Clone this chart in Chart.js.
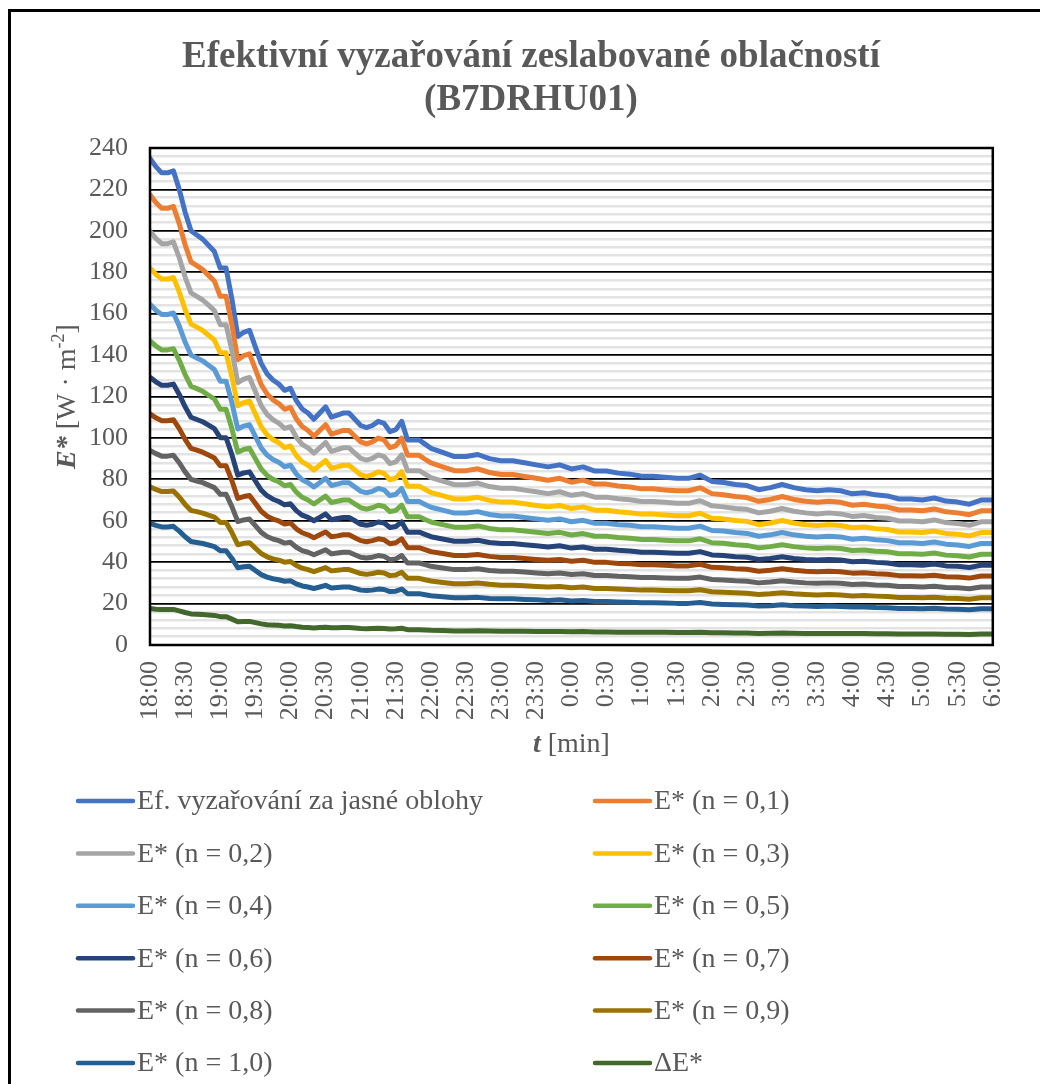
<!DOCTYPE html>
<html>
<head>
<meta charset="utf-8">
<script src="https://cdn.jsdelivr.net/npm/chart.js@4/dist/chart.umd.min.js"></script>
<style>
  body { margin: 0; background: #fff; }
  canvas { display: block; }
</style>
</head>
<body>
<canvas id="chart" width="1040" height="1084" style="width:1040px;height:1084px"></canvas>
<script>
// time in minutes after 18:00
const minutes = [0,5,10,15,20,25,30,35,40,45,50,55,60,65,70,75,80,85,90,95,100,105,110,115,120,125,130,135,140,145,150,155,160,165,170,175,180,185,190,195,200,205,210,215,220,225,230,235,240,
  250,260,270,280,290,300,310,320,330,340,350,360,370,380,390,400,410,420,430,440,450,460,470,480,490,500,510,520,530,540,550,560,570,580,590,600,610,620,630,640,650,660,670,680,690,700,710,720];

const tickLabels = ['18:00','18:30','19:00','19:30','20:00','20:30','21:00','21:30','22:00','22:30','23:00','23:30',
  '0:00','0:30','1:00','1:30','2:00','2:30','3:00','3:30','4:00','4:30','5:00','5:30','6:00'];

const seriesNames = ['Ef. vyzařování za jasné oblohy','E* (n = 0,1)','E* (n = 0,2)','E* (n = 0,3)','E* (n = 0,4)','E* (n = 0,5)',
  'E* (n = 0,6)','E* (n = 0,7)','E* (n = 0,8)','E* (n = 0,9)','E* (n = 1,0)','ΔE*'];

const clearSky = [235,231,228,228,229,220,209,200,198,196,193,190,182,182,167,149,151,152,144,136,131,128,126,123,124,118,114,112,109,112,115,110,111,112,112,109,106,105,106,108,107,103,104,108,99,99,99,97,95,
  93,91,91,92,90,89,89,88,87,86,87,85,86,84,84,83,82.5,81.5,81.5,81,80.5,80.5,82,79,78.5,77.5,77,75,76,77.5,76,75,74.5,75,74.5,73,73.5,72.5,72,70.5,70.5,70,71,69.5,69,68,70,70];
const n01 = [217.4,213.7,210.9,210.9,211.8,203.5,193.3,185,183.2,181.3,178.5,175.8,168.4,168.4,154.5,137.8,139.7,140.6,133.2,125.8,121.2,118.4,116.6,113.8,114.7,109.2,105.5,103.6,100.8,103.6,106.4,101.8,102.7,103.6,103.6,100.8,98.1,97.1,98.1,99.9,99,95.3,96.2,99.9,91.6,91.6,91.6,89.7,87.9,
  86,84.2,84.2,85.1,83.3,82.3,82.3,81.4,80.5,79.6,80.5,78.6,79.6,77.7,77.7,76.8,76.3,75.4,75.4,74.9,74.5,74.5,75.9,73.1,72.6,71.7,71.2,69.4,70.3,71.7,70.3,69.4,68.9,69.4,68.9,67.5,68,67.1,66.6,65.2,65.2,64.8,65.7,64.3,63.8,62.9,64.8,64.8];
const n02 = [199.8,196.4,193.8,193.8,194.7,187,177.7,170,168.3,166.6,164.1,161.5,154.7,154.7,142,126.7,128.4,129.2,122.4,115.6,111.4,108.8,107.1,104.6,105.4,100.3,96.9,95.2,92.7,95.2,97.8,93.5,94.4,95.2,95.2,92.7,90.1,89.3,90.1,91.8,91,87.6,88.4,91.8,84.2,84.2,84.2,82.5,80.8,
  79.1,77.4,77.4,78.2,76.5,75.7,75.7,74.8,74,73.1,74,72.3,73.1,71.4,71.4,70.6,70.1,69.3,69.3,68.9,68.4,68.4,69.7,67.2,66.7,65.9,65.5,63.8,64.6,65.9,64.6,63.8,63.3,63.8,63.3,62.1,62.5,61.6,61.2,59.9,59.9,59.5,60.4,59.1,58.7,57.8,59.5,59.5];
const n03 = [182.1,179,176.7,176.7,177.5,170.5,162,155,153.5,151.9,149.6,147.3,141.1,141.1,129.4,115.5,117,117.8,111.6,105.4,101.5,99.2,97.7,95.3,96.1,91.5,88.4,86.8,84.5,86.8,89.1,85.3,86,86.8,86.8,84.5,82.2,81.4,82.2,83.7,82.9,79.8,80.6,83.7,76.7,76.7,76.7,75.2,73.6,
  72.1,70.5,70.5,71.3,69.8,69,69,68.2,67.4,66.7,67.4,65.9,66.7,65.1,65.1,64.3,63.9,63.2,63.2,62.8,62.4,62.4,63.6,61.2,60.8,60.1,59.7,58.1,58.9,60.1,58.9,58.1,57.7,58.1,57.7,56.6,57,56.2,55.8,54.6,54.6,54.3,55,53.9,53.5,52.7,54.3,54.3];
const n04 = [164.5,161.7,159.6,159.6,160.3,154,146.3,140,138.6,137.2,135.1,133,127.4,127.4,116.9,104.3,105.7,106.4,100.8,95.2,91.7,89.6,88.2,86.1,86.8,82.6,79.8,78.4,76.3,78.4,80.5,77,77.7,78.4,78.4,76.3,74.2,73.5,74.2,75.6,74.9,72.1,72.8,75.6,69.3,69.3,69.3,67.9,66.5,
  65.1,63.7,63.7,64.4,63,62.3,62.3,61.6,60.9,60.2,60.9,59.5,60.2,58.8,58.8,58.1,57.8,57.1,57.1,56.7,56.4,56.4,57.4,55.3,55,54.3,53.9,52.5,53.2,54.3,53.2,52.5,52.2,52.5,52.2,51.1,51.5,50.8,50.4,49.4,49.4,49,49.7,48.7,48.3,47.6,49,49];
const n05 = [146.9,144.4,142.5,142.5,143.1,137.5,130.6,125,123.8,122.5,120.6,118.8,113.8,113.8,104.4,93.1,94.4,95,90,85,81.9,80,78.8,76.9,77.5,73.8,71.3,70,68.1,70,71.9,68.8,69.4,70,70,68.1,66.3,65.6,66.3,67.5,66.9,64.4,65,67.5,61.9,61.9,61.9,60.6,59.4,
  58.1,56.9,56.9,57.5,56.3,55.6,55.6,55,54.4,53.8,54.4,53.1,53.8,52.5,52.5,51.9,51.6,50.9,50.9,50.6,50.3,50.3,51.3,49.4,49.1,48.4,48.1,46.9,47.5,48.4,47.5,46.9,46.6,46.9,46.6,45.6,45.9,45.3,45,44.1,44.1,43.8,44.4,43.4,43.1,42.5,43.8,43.8];
const n06 = [129.3,127.1,125.4,125.4,126,121,115,110,108.9,107.8,106.2,104.5,100.1,100.1,91.9,82,83.1,83.6,79.2,74.8,72.1,70.4,69.3,67.7,68.2,64.9,62.7,61.6,60,61.6,63.3,60.5,61.1,61.6,61.6,60,58.3,57.8,58.3,59.4,58.9,56.7,57.2,59.4,54.5,54.5,54.5,53.4,52.3,
  51.2,50.1,50.1,50.6,49.5,49,49,48.4,47.9,47.3,47.9,46.8,47.3,46.2,46.2,45.7,45.4,44.8,44.8,44.6,44.3,44.3,45.1,43.5,43.2,42.6,42.4,41.3,41.8,42.6,41.8,41.3,41,41.3,41,40.2,40.4,39.9,39.6,38.8,38.8,38.5,39.1,38.2,38,37.4,38.5,38.5];
const n07 = [111.6,109.7,108.3,108.3,108.8,104.5,99.3,95,94.1,93.1,91.7,90.3,86.5,86.5,79.3,70.8,71.7,72.2,68.4,64.6,62.2,60.8,59.9,58.4,58.9,56.1,54.2,53.2,51.8,53.2,54.6,52.3,52.7,53.2,53.2,51.8,50.4,49.9,50.4,51.3,50.8,48.9,49.4,51.3,47,47,47,46.1,45.1,
  44.2,43.2,43.2,43.7,42.8,42.3,42.3,41.8,41.3,40.9,41.3,40.4,40.9,39.9,39.9,39.4,39.2,38.7,38.7,38.5,38.2,38.2,39,37.5,37.3,36.8,36.6,35.6,36.1,36.8,36.1,35.6,35.4,35.6,35.4,34.7,34.9,34.4,34.2,33.5,33.5,33.3,33.7,33,32.8,32.3,33.3,33.3];
const n08 = [94,92.4,91.2,91.2,91.6,88,83.6,80,79.2,78.4,77.2,76,72.8,72.8,66.8,59.6,60.4,60.8,57.6,54.4,52.4,51.2,50.4,49.2,49.6,47.2,45.6,44.8,43.6,44.8,46,44,44.4,44.8,44.8,43.6,42.4,42,42.4,43.2,42.8,41.2,41.6,43.2,39.6,39.6,39.6,38.8,38,
  37.2,36.4,36.4,36.8,36,35.6,35.6,35.2,34.8,34.4,34.8,34,34.4,33.6,33.6,33.2,33,32.6,32.6,32.4,32.2,32.2,32.8,31.6,31.4,31,30.8,30,30.4,31,30.4,30,29.8,30,29.8,29.2,29.4,29,28.8,28.2,28.2,28,28.4,27.8,27.6,27.2,28,28];
const n09 = [76.4,75.1,74.1,74.1,74.4,71.5,67.9,65,64.4,63.7,62.7,61.8,59.2,59.2,54.3,48.4,49.1,49.4,46.8,44.2,42.6,41.6,41,40,40.3,38.4,37.1,36.4,35.4,36.4,37.4,35.8,36.1,36.4,36.4,35.4,34.5,34.1,34.5,35.1,34.8,33.5,33.8,35.1,32.2,32.2,32.2,31.5,30.9,
  30.2,29.6,29.6,29.9,29.3,28.9,28.9,28.6,28.3,28,28.3,27.6,28,27.3,27.3,27,26.8,26.5,26.5,26.3,26.2,26.2,26.7,25.7,25.5,25.2,25,24.4,24.7,25.2,24.7,24.4,24.2,24.4,24.2,23.7,23.9,23.6,23.4,22.9,22.9,22.8,23.1,22.6,22.4,22.1,22.8,22.8];
const n10 = [58.8,57.8,57,57,57.3,55,52.3,50,49.5,49,48.3,47.5,45.5,45.5,41.8,37.3,37.8,38,36,34,32.8,32,31.5,30.8,31,29.5,28.5,28,27.3,28,28.8,27.5,27.8,28,28,27.3,26.5,26.3,26.5,27,26.8,25.8,26,27,24.8,24.8,24.8,24.3,23.8,
  23.3,22.8,22.8,23,22.5,22.3,22.3,22,21.8,21.5,21.8,21.3,21.5,21,21,20.8,20.6,20.4,20.4,20.3,20.1,20.1,20.5,19.8,19.6,19.4,19.3,18.8,19,19.4,19,18.8,18.6,18.8,18.6,18.3,18.4,18.1,18,17.6,17.6,17.5,17.8,17.4,17.3,17,17.5,17.5];
const deltaE = [17.6,17.3,17.1,17.1,17.2,16.5,15.7,15,14.9,14.7,14.5,14.3,13.7,13.7,12.5,11.2,11.3,11.4,10.8,10.2,9.8,9.6,9.5,9.2,9.3,8.9,8.6,8.4,8.2,8.4,8.6,8.3,8.3,8.4,8.4,8.2,8,7.9,8,8.1,8,7.7,7.8,8.1,7.4,7.4,7.4,7.3,7.1,
  7,6.8,6.8,6.9,6.8,6.7,6.7,6.6,6.5,6.5,6.5,6.4,6.5,6.3,6.3,6.2,6.2,6.1,6.1,6.1,6,6,6.2,5.9,5.9,5.8,5.8,5.6,5.7,5.8,5.7,5.6,5.6,5.6,5.6,5.5,5.5,5.4,5.4,5.3,5.3,5.3,5.3,5.2,5.2,5.1,5.3,5.3];

const seriesValues = [clearSky, n01, n02, n03, n04, n05, n06, n07, n08, n09, n10, deltaE];
const colors = ['#4472C4','#ED7D31','#A5A5A5','#FFC000','#5B9BD5','#70AD47','#264478','#9E480E','#636363','#997300','#255E91','#43682B'];

const serif = "'Liberation Serif', 'Times New Roman', serif";
const gray = '#595959';

const datasets = seriesValues.map((vals, i) => ({
  label: seriesNames[i],
  data: vals.map((v, j) => ({ x: minutes[j], y: v })),
  borderColor: colors[i],
  backgroundColor: colors[i],
  borderWidth: 5,
  pointRadius: 0,
  fill: false,
  order: seriesValues.length - i   // later series on top, like the original
}));

// frame, titles and the two-column legend
const decorations = {
  id: 'decorations',
  afterDatasetsDraw(chart) {
    const { ctx, chartArea: a } = chart;
    ctx.save();
    ctx.strokeStyle = '#000';
    ctx.lineWidth = 2.5;
    ctx.strokeRect(a.left, a.top, a.right - a.left, a.bottom - a.top);
    ctx.restore();
  },
  afterDraw(chart) {
    const { ctx, chartArea: a } = chart;
    ctx.save();
    // outer border
    ctx.strokeStyle = '#000';
    ctx.lineWidth = 3;
    ctx.strokeRect(9.5, 10.5, 1100, 1100);

    // title
    ctx.fillStyle = gray;
    ctx.textAlign = 'center';
    ctx.textBaseline = 'middle';
    ctx.font = 'bold 37px ' + serif;
    ctx.fillText('Efektivní vyzařování zeslabované oblačností', 531, 57);
    ctx.fillText('(B7DRHU01)', 531, 100);

    // mixed-style text helper
    const drawParts = (parts, cx, cy) => {
      let total = 0;
      parts.forEach(p => { ctx.font = p.font; p.w = ctx.measureText(p.text).width; total += p.w; });
      let x = cx - total / 2;
      ctx.textAlign = 'left';
      parts.forEach(p => { ctx.font = p.font; ctx.fillText(p.text, x, cy + (p.dy || 0)); x += p.w; });
    };

    // x axis title
    drawParts([
      { text: 't', font: 'bold italic 28px ' + serif },
      { text: ' [min]', font: '28px ' + serif }
    ], (a.left + a.right) / 2, 745);

    // y axis title
    ctx.save();
    ctx.translate(68, (a.top + a.bottom) / 2);
    ctx.rotate(-Math.PI / 2);
    drawParts([
      { text: 'E*', font: 'bold italic 28px ' + serif },
      { text: ' [W · m', font: '28px ' + serif },
      { text: '-2', font: '18px ' + serif, dy: -9 },
      { text: ']', font: '28px ' + serif }
    ], 0, 0);
    ctx.restore();

    // legend
    ctx.textAlign = 'left';
    ctx.textBaseline = 'middle';
    ctx.font = '28px ' + serif;
    ctx.lineCap = 'round';
    chart.data.datasets.forEach((ds, i) => {
      const col = i % 2, row = Math.floor(i / 2);
      const x0 = col ? 595 : 78;
      const y = 801 + row * 52.4;
      ctx.strokeStyle = ds.borderColor;
      ctx.lineWidth = 4.5;
      ctx.beginPath();
      ctx.moveTo(x0, y);
      ctx.lineTo(x0 + 55, y);
      ctx.stroke();
      ctx.fillStyle = gray;
      ctx.fillText(ds.label, x0 + 59, y + 1);
    });
    ctx.restore();
  }
};

const ctx = document.getElementById('chart').getContext('2d');
const chart = new Chart(ctx, {
  type: 'line',
  data: { datasets },
  options: {
    responsive: false,
    animation: false,
    layout: { padding: { left: 10, right: 19, top: 148, bottom: 0 } },
    elements: { line: { tension: 0, borderCapStyle: 'round', borderJoinStyle: 'round' } },
    plugins: {
      legend: { display: false },
      tooltip: { enabled: false },
      title: { display: false }
    },
    scales: {
      yMinor: {
        type: 'linear',
        position: 'left',
        min: 0,
        max: 240,
        z: -1,
        ticks: { stepSize: 4, display: false },
        grid: {
          color: c => (c.tick && c.tick.value % 20 === 0) ? 'rgba(0,0,0,0)' : '#e3e3e3',
          lineWidth: 2.5,
          drawTicks: false
        },
        border: { display: false },
        afterFit: s => { s.width = 0; }
      },
      y: {
        type: 'linear',
        position: 'left',
        min: 0,
        max: 240,
        ticks: { stepSize: 20, color: gray, padding: 22, font: { family: serif, size: 26 } },
        grid: { color: '#000', lineWidth: 1.75, drawTicks: false },
        border: { display: false },
        afterFit: s => { s.width = 140; }
      },
      x: {
        type: 'linear',
        min: 0,
        max: 720,
        ticks: {
          stepSize: 30,
          autoSkip: false,
          minRotation: 90,
          maxRotation: 90,
          color: gray,
          padding: 16,
          font: { family: serif, size: 26 },
          callback: v => tickLabels[Math.round(v / 30)]
        },
        grid: { display: false, drawTicks: false },
        border: { display: false },
        afterFit: s => { s.height = 439; }
      }
    }
  },
  plugins: [decorations]
});
</script>
</body>
</html>
